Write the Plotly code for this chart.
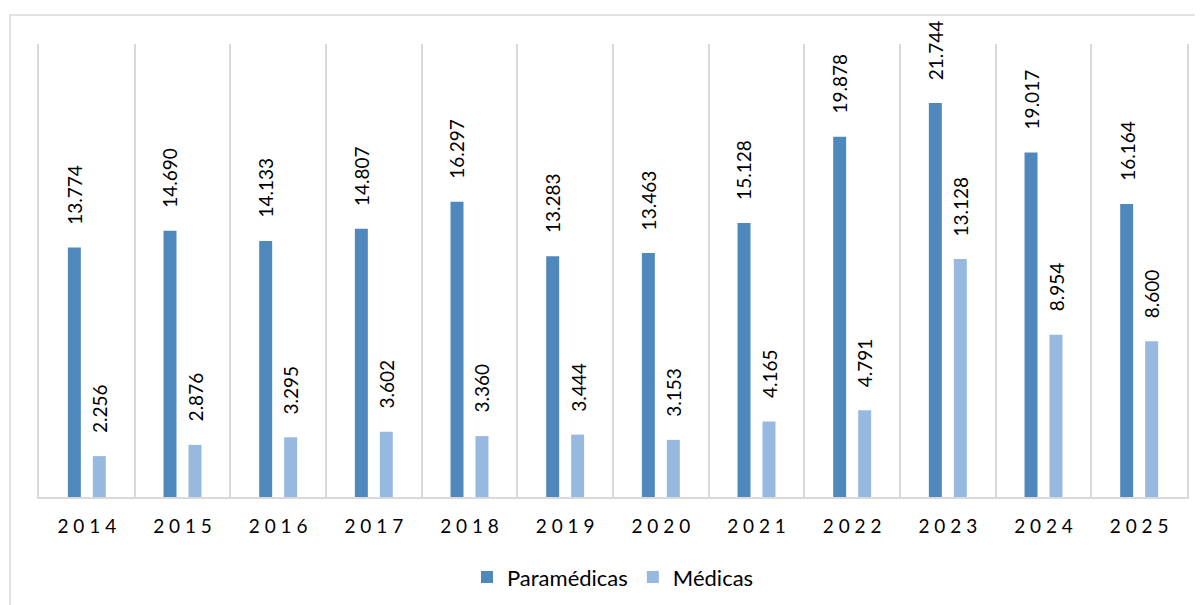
import plotly.graph_objects as go

years = ["2014", "2015", "2016", "2017", "2018", "2019",
         "2020", "2021", "2022", "2023", "2024", "2025"]
paramedicas = [13.774, 14.690, 14.133, 14.807, 16.297, 13.283,
               13.463, 15.128, 19.878, 21.744, 19.017, 16.164]
medicas = [2.256, 2.876, 3.295, 3.602, 3.360, 3.444,
           3.153, 4.165, 4.791, 13.128, 8.954, 8.600]
tick_labels = [" ".join(y) for y in years]

DARK = "#4F88BC"
LIGHT = "#97B9E0"
GRID = "#D9D9D9"
FONT = "Lato"


def fmt(v):
    return f"{v:.3f}"


fig = go.Figure()
fig.add_trace(go.Bar(x=years, y=paramedicas, name="Paramédicas",
                     marker=dict(color=DARK, line=dict(width=0))))
fig.add_trace(go.Bar(x=years, y=medicas, name="Médicas",
                     marker=dict(color=LIGHT, line=dict(width=0))))

# rótulos de dados rodados acima das barras (x = índice da categoria)
for series, off in ((paramedicas, -0.1307), (medicas, 0.1307)):
    for i, v in enumerate(series):
        fig.add_annotation(x=i + off, y=v, text=fmt(v), textangle=-90,
                           showarrow=False, yshift=21,
                           xanchor="center", yanchor="bottom",
                           font=dict(family=FONT, size=19, color="#000000"))

# moldura do gráfico
fig.add_shape(type="rect", xref="paper", yref="paper",
              x0=-0.0253, x1=1.05, y0=-0.4, y1=1.064,
              line=dict(color=GRID, width=1.5), layer="below")

# a página tem 8px de margem no body: compensado nas margens
fig.update_layout(
    width=1203, height=605,
    margin=dict(l=31, r=24, t=36, b=116),
    paper_bgcolor="white", plot_bgcolor="white",
    barmode="group", bargap=0.478, bargroupgap=0.48,
    font=dict(family=FONT, color="#000000"),
    showlegend=True,
    legend=dict(orientation="h", x=0.5, xanchor="center",
                y=-0.177, yanchor="middle",
                font=dict(family=FONT, size=22, color="#000000"),
                itemwidth=30, traceorder="normal"),
    xaxis=dict(type="category", tickson="boundaries",
               range=[-0.5, 11.5],
               tickmode="array", tickvals=years, ticktext=tick_labels,
               showgrid=True, gridcolor=GRID, gridwidth=1.5,
               showline=True, linecolor=GRID, linewidth=1.5,
               ticks="", ticklabelstandoff=11,
               tickfont=dict(family=FONT, size=19, color="#000000")),
    yaxis=dict(range=[0, 25], showgrid=False, zeroline=False,
               showticklabels=False, ticks="",
               showline=True, linecolor=GRID, linewidth=1.5, mirror=True),
)

fig.write_html("out.html")
